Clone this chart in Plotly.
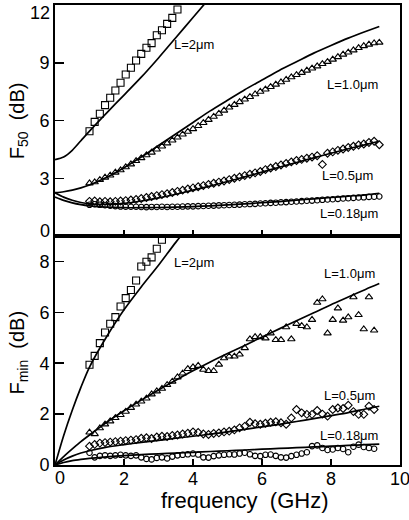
import plotly.graph_objects as go

# ---------------- data ----------------
# measurement frequencies (GHz)
freq = [1.00, 1.15, 1.30, 1.45, 1.60, 1.75, 1.90, 2.05, 2.20, 2.35, 2.50, 2.65, 2.80, 2.95,
        3.10, 3.25, 3.40, 3.55, 3.70, 3.85, 4.00, 4.15, 4.30, 4.45, 4.60, 4.75, 4.90, 5.05,
        5.20, 5.35, 5.50, 5.65, 5.80, 5.95, 6.10, 6.25, 6.40, 6.55, 6.70, 6.85, 7.00, 7.15,
        7.30, 7.45, 7.60, 7.75, 7.90, 8.05, 8.20, 8.35, 8.50, 8.65, 8.80, 8.95, 9.10, 9.25,
        9.40]
# model curve frequencies (GHz)
model_freq = [0.0, 0.25, 0.5, 0.75, 1.0, 1.5, 2.0, 2.5, 3.0, 3.5, 4.0, 4.5, 5.0, 5.5,
              6.0, 6.5, 7.0, 7.5, 8.0, 8.5, 9.0, 9.4]
model_freq_2um_top = [0.0, 0.25, 0.5, 0.75, 1.0, 1.5, 2.0, 2.5, 3.0, 3.5, 4.0, 4.5]
model_freq_2um_bot = [0.0, 0.25, 0.5, 0.75, 1.0, 1.5, 2.0, 2.5, 3.0, 3.5, 4.0]

# ---- F50 (top panel), dB ----
f50_2um = [5.44, 5.93, 6.35, 6.80, 7.18, 7.56, 7.96, 8.39, 8.74, 9.12, 9.46, 9.78, 10.02,
           10.43, 10.69, 11.02, 11.33, 11.77]
f50_1um = [2.74, 2.80, 2.92, 3.04, 3.15, 3.30, 3.42, 3.58, 3.73, 3.90, 4.05, 4.20, 4.34,
           4.50, 4.66, 4.82, 4.97, 5.12, 5.28, 5.42, 5.56, 5.72, 5.88, 6.04, 6.20, 6.36,
           6.52, 6.68, 6.82, 6.96, 7.10, 7.23, 7.37, 7.50, 7.62, 7.75, 7.87, 7.99, 8.12,
           8.25, 8.37, 8.48, 8.60, 8.71, 8.82, 8.94, 9.05, 9.17, 9.30, 9.43, 9.54, 9.65,
           9.77, 9.87, 9.95, 10.02, 10.05]
f50_05um = [1.80, 1.82, 1.78, 1.80, 1.78, 1.80, 1.82, 1.84, 1.87, 1.90, 1.95, 2.00, 2.05,
            2.10, 2.15, 2.20, 2.26, 2.32, 2.38, 2.44, 2.50, 2.56, 2.62, 2.68, 2.74, 2.80,
            2.86, 2.93, 3.00, 3.07, 3.14, 3.21, 3.28, 3.35, 3.45, 3.53, 3.61, 3.69, 3.77,
            3.85, 3.92, 3.98, 4.04, 4.10, 4.17, 3.72, 4.30, 4.37, 4.45, 4.52, 4.60, 4.66,
            4.73, 4.78, 4.86, 4.92, 4.74]
f50_018um = [1.62, 1.65, 1.62, 1.60, 1.57, 1.55, 1.53, 1.52, 1.52, 1.52, 1.51, 1.50, 1.51,
             1.51, 1.52, 1.51, 1.52, 1.52, 1.53, 1.54, 1.54, 1.55, 1.56, 1.57, 1.58, 1.59,
             1.60, 1.61, 1.62, 1.63, 1.65, 1.66, 1.67, 1.69, 1.70, 1.72, 1.73, 1.75, 1.76,
             1.78, 1.79, 1.81, 1.83, 1.84, 1.86, 1.88, 1.90, 1.91, 1.93, 1.95, 1.96, 1.98,
             2.00, 2.01, 2.03, 2.04, 2.05]
f50_model_2um = [3.97, 4.10, 4.45, 4.95, 5.45, 6.40, 7.32, 8.25, 9.25, 10.30, 11.35, 12.40]
f50_model_1um = [2.25, 2.30, 2.38, 2.50, 2.65, 3.05, 3.55, 4.10, 4.70, 5.30, 5.90, 6.50,
                 7.05, 7.60, 8.10, 8.60, 9.05, 9.50, 9.90, 10.28, 10.62, 10.88]
f50_model_05um = [2.25, 2.02, 1.86, 1.74, 1.67, 1.64, 1.70, 1.82, 1.98, 2.17, 2.38, 2.60,
                  2.83, 3.07, 3.32, 3.57, 3.82, 4.06, 4.30, 4.53, 4.75, 4.92]
f50_model_018um = [2.02, 1.85, 1.72, 1.63, 1.57, 1.50, 1.47, 1.47, 1.48, 1.50, 1.53, 1.57,
                   1.62, 1.67, 1.73, 1.79, 1.86, 1.93, 2.00, 2.07, 2.14, 2.22]

# ---- Fmin (bottom panel), dB ----
fmin_2um = [3.94, 4.29, 4.79, 5.21, 5.55, 5.81, 6.23, 6.56, 6.88, 7.25, 7.80, 7.99, 8.16,
            8.50, 8.85]
fmin_1um = [1.28, 1.22, 1.45, 1.60, 1.72, 1.85, 1.97, 2.10, 2.25, 2.38, 2.50, 2.62, 2.78,
            2.90, 3.00, 3.15, 3.28, 3.45, 3.60, 3.78, 3.85, 3.90, 3.75, 3.70, 3.70, 3.95,
            4.20, 4.27, 4.27, 4.35, 4.60, 4.95, 5.03, 5.03, 4.98, 5.18, 4.92, 4.92, 5.42,
            4.95, 5.55, 5.47, 5.42, 5.71, 6.38, 6.52, 5.18, 5.71, 6.16, 5.68, 5.81, 6.60,
            5.90, 5.34, 6.60, 5.29]
fmin_05um = [0.74, 0.81, 0.86, 0.88, 0.90, 0.92, 0.94, 0.96, 0.98, 1.00, 1.05, 1.07, 1.04,
             1.10, 1.13, 1.12, 1.16, 1.18, 1.22, 1.25, 1.30, 1.28, 1.22, 1.20, 1.24, 1.26,
             1.30, 1.33, 1.38, 1.46, 1.52, 1.68, 1.62, 1.60, 1.64, 1.68, 1.70, 1.66, 1.60,
             1.85, 2.18, 2.05, 1.99, 1.99, 2.14, 2.00, 1.92, 2.18, 2.24, 2.22, 2.35, 2.10,
             1.99, 1.99, 2.31, 2.18]
fmin_018um = [0.48, 0.30, 0.36, 0.38, 0.36, 0.38, 0.40, 0.38, 0.36, 0.38, 0.30, 0.24, 0.22,
              0.28, 0.30, 0.26, 0.33, 0.38, 0.40, 0.42, 0.45, 0.41, 0.30, 0.29, 0.35, 0.38,
              0.40, 0.42, 0.41, 0.45, 0.48, 0.42, 0.36, 0.35, 0.40, 0.41, 0.36, 0.30, 0.29,
              0.35, 0.40, 0.45, 0.50, 0.74, 0.77, 0.67, 0.59, 0.61, 0.67, 0.63, 0.50, 0.72,
              0.80, 0.71, 0.67, 0.64]
fmin_model_2um = [0.0, 1.15, 2.15, 3.05, 3.85, 5.05, 6.10, 7.00, 7.85, 8.75, 9.60]
fmin_model_1um = [0.0, 0.33, 0.63, 0.92, 1.18, 1.68, 2.13, 2.55, 2.95, 3.33, 3.70, 4.05,
                  4.38, 4.70, 5.03, 5.35, 5.67, 5.98, 6.30, 6.60, 6.90, 7.13]
fmin_model_05um = [0.0, 0.20, 0.35, 0.47, 0.56, 0.70, 0.80, 0.89, 0.97, 1.05, 1.13, 1.21,
                   1.30, 1.40, 1.50, 1.60, 1.71, 1.82, 1.94, 2.06, 2.20, 2.31]
fmin_model_018um = [0.0, 0.10, 0.17, 0.22, 0.26, 0.32, 0.37, 0.41, 0.44, 0.47, 0.50, 0.53,
                    0.56, 0.59, 0.62, 0.65, 0.68, 0.71, 0.74, 0.77, 0.80, 0.82]

labels = ["L=2μm", "L=1.0μm", "L=0.5μm", "L=0.18μm"]

# ---------------- figure ----------------
FONT = "Liberation Sans, Arial, Helvetica, sans-serif"
fig = go.Figure()

def add_marks(x, y, symbol, size, xa, ya):
    fig.add_trace(go.Scatter(x=x, y=y, mode="markers", xaxis=xa, yaxis=ya,
                             marker=dict(symbol=symbol, size=size, color="black",
                                         line=dict(width=1.1, color="black")),
                             showlegend=False, hoverinfo="skip"))

def add_line(x, y, xa, ya):
    fig.add_trace(go.Scatter(x=x, y=y, mode="lines", xaxis=xa, yaxis=ya,
                             line=dict(color="black", width=1.7, shape="spline", smoothing=0.8),
                             showlegend=False, hoverinfo="skip", cliponaxis=True))

# top panel (F50)
add_line(model_freq_2um_top, f50_model_2um, "x2", "y2")
add_line(model_freq, f50_model_1um, "x2", "y2")
add_line(model_freq, f50_model_05um, "x2", "y2")
add_line(model_freq, f50_model_018um, "x2", "y2")
add_marks(freq[:len(f50_2um)], f50_2um, "square-open", 7, "x2", "y2")
add_marks(freq[:len(f50_1um)], f50_1um, "triangle-up-open", 6.5, "x2", "y2")
add_marks(freq[:len(f50_05um)], f50_05um, "diamond-open", 6, "x2", "y2")
add_marks(freq[:len(f50_018um)], f50_018um, "circle-open", 5.5, "x2", "y2")

# bottom panel (Fmin)
add_line(model_freq_2um_bot, fmin_model_2um, "x", "y")
add_line(model_freq, fmin_model_1um, "x", "y")
add_line(model_freq, fmin_model_05um, "x", "y")
add_line(model_freq, fmin_model_018um, "x", "y")
add_marks(freq[:len(fmin_2um)], fmin_2um, "square-open", 7, "x", "y")
add_marks(freq[:len(fmin_1um)], fmin_1um, "triangle-up-open", 6.5, "x", "y")
add_marks(freq[:len(fmin_05um)], fmin_05um, "diamond-open", 6, "x", "y")
add_marks(freq[:len(fmin_018um)], fmin_018um, "circle-open", 5.5, "x", "y")

split = 229 / 460

axis_common = dict(showgrid=False, zeroline=False, showline=True, linecolor="black",
                   linewidth=2, mirror=True, ticks="inside", tickcolor="black",
                   tickwidth=1.5, automargin=False, ticklabeloverflow="allow",
                   tickfont=dict(family=FONT, size=18, color="black"))

fig.update_layout(
    width=409, height=520,
    margin=dict(l=55, r=9, t=5, b=55),
    paper_bgcolor="white", plot_bgcolor="white",
    font=dict(family=FONT, color="black"),
    xaxis=dict(axis_common, domain=[0, 1], range=[0, 10], anchor="y",
               tickvals=[2, 4, 6, 8, 10], ticklen=6, ticklabelstandoff=-4),
    yaxis=dict(axis_common, domain=[0, split], range=[0, 9], anchor="x",
               tickvals=[0, 2, 4, 6, 8], ticklen=9),
    xaxis2=dict(axis_common, domain=[0, 1], range=[0, 10], anchor="y2",
                tickvals=[2, 4, 6, 8], ticklen=6, showticklabels=False),
    yaxis2=dict(axis_common, domain=[split, 1], range=[0, 12], anchor="x2",
                tickvals=[3, 6, 9], ticklen=9),
)

ann = []
lab_font = dict(family=FONT, size=13, color="black")
# top panel curve labels
for text, x, y in zip(labels, [3.39, 7.83, 7.68, 7.62], [9.95, 7.87, 3.14, 1.17]):
    ann.append(dict(text=text, x=x, y=y, xref="x2", yref="y2", xanchor="left",
                    yanchor="middle", showarrow=False, font=lab_font))
# bottom panel curve labels
for text, x, y in zip(labels, [3.39, 7.74, 7.74, 7.62], [7.94, 7.51, 2.73, 1.16]):
    ann.append(dict(text=text, x=x, y=y, xref="x", yref="y", xanchor="left",
                    yanchor="middle", showarrow=False, font=lab_font))
# edge tick labels (nudged inward as in the original)
tick_font = dict(family=FONT, size=18, color="black")
ann.append(dict(text="12", x=0, y=12, xref="paper", yref="y2", xanchor="right",
                yanchor="middle", xshift=-3, yshift=-8, showarrow=False, font=tick_font))
ann.append(dict(text="0", x=0, y=0, xref="paper", yref="y2", xanchor="right",
                yanchor="middle", xshift=-3, yshift=5, showarrow=False, font=tick_font))
ann.append(dict(text="0", x=0, y=0, xref="x", yref="paper", xanchor="center",
                yanchor="top", xshift=5, yshift=-1, showarrow=False, font=tick_font))
# axis titles
title_font = dict(family=FONT, size=20, color="black")
ann.append(dict(text="F<sub>50</sub>\u00a0\u00a0(dB)", x=-0.105, y=(split + 1) / 2,
                xref="paper", yref="paper", textangle=-90, xanchor="center",
                yanchor="middle", showarrow=False, font=title_font))
ann.append(dict(text="F<sub>min</sub>\u00a0\u00a0(dB)", x=-0.105, y=split / 2 - 0.005,
                xref="paper", yref="paper", textangle=-90, xanchor="center",
                yanchor="middle", showarrow=False, font=title_font))
ann.append(dict(text="frequency\u00a0\u00a0(GHz)", x=0.55, y=-0.078, xref="paper",
                yref="paper", xanchor="center", yanchor="middle", showarrow=False,
                font=dict(family=FONT, size=22, color="black")))
fig.update_layout(annotations=ann)

# remove the default page margin/scrollbars so the figure starts at the window corner
fig.write_html(
    "out.html",
    config={"displayModeBar": False, "staticPlot": True},
    post_script=("document.body.style.margin='0px';"
                 "document.body.style.overflow='hidden';"
                 "document.documentElement.style.overflow='hidden';"),
)
